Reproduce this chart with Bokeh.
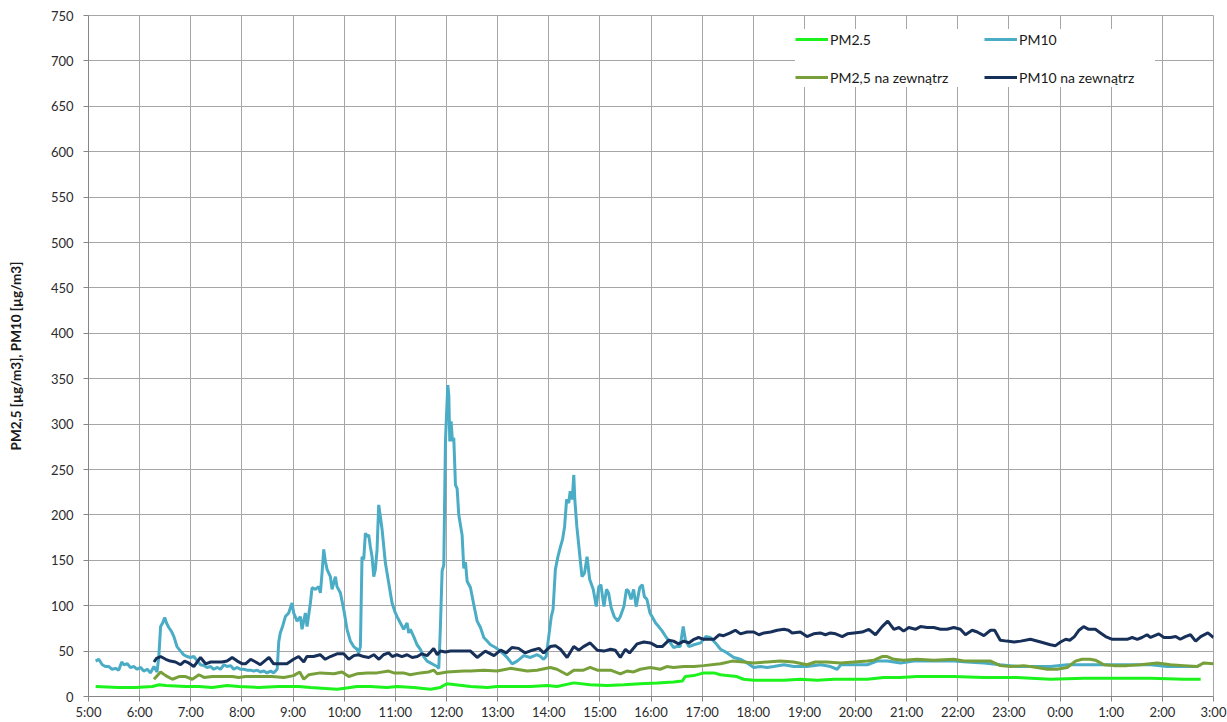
from bokeh.plotting import figure
from bokeh.models import Range1d, FixedTicker
from bokeh.embed import file_html
from bokeh.resources import INLINE

# ---- data (time in decimal hours since midnight of day 1; 24+ = next day) ----
tick_hours = list(range(5, 28))
tick_labels = ["5:00", "6:00", "7:00", "8:00", "9:00", "10:00", "11:00", "12:00",
               "13:00", "14:00", "15:00", "16:00", "17:00", "18:00", "19:00", "20:00",
               "21:00", "22:00", "23:00", "0:00", "1:00", "2:00", "3:00"]
y_ticks = list(range(0, 751, 50))

pm10_t = [5.14, 5.20, 5.27, 5.33, 5.40, 5.46, 5.53, 5.59, 5.65, 5.69, 5.76, 5.82, 5.89, 5.95,
          6.02, 6.08, 6.15, 6.21, 6.28, 6.34, 6.375, 6.41, 6.45, 6.49, 6.525, 6.57, 6.62, 6.67,
          6.73, 6.80, 6.86, 6.93, 6.99, 7.06, 7.13, 7.19, 7.26, 7.32, 7.39, 7.45, 7.52, 7.58,
          7.65, 7.71, 7.78, 7.84, 7.91, 7.97, 8.04, 8.10, 8.17, 8.23, 8.30, 8.36, 8.43, 8.49,
          8.56, 8.62, 8.69, 8.72, 8.75, 8.80, 8.85, 8.915, 8.98, 9.013, 9.078, 9.143, 9.176,
          9.241, 9.274, 9.339, 9.372, 9.437, 9.502, 9.535, 9.567, 9.60, 9.632, 9.665, 9.73,
          9.763, 9.828, 9.86, 9.926, 9.991, 10.056, 10.121, 10.186, 10.252, 10.284, 10.317,
          10.349, 10.382, 10.415, 10.447, 10.48, 10.512, 10.545, 10.578, 10.61, 10.643, 10.675,
          10.708, 10.741, 10.806, 10.871, 10.936, 11.001, 11.034, 11.099, 11.164, 11.23, 11.262,
          11.295, 11.36, 11.425, 11.49, 11.555, 11.621, 11.686, 11.751, 11.816, 11.85, 11.88,
          11.915, 11.948, 11.98, 12.026, 12.046, 12.065, 12.091, 12.117, 12.143, 12.176, 12.209,
          12.241, 12.306, 12.339, 12.372, 12.404, 12.469, 12.535, 12.60, 12.665, 12.73, 12.795,
          12.86, 12.958, 13.056, 13.186, 13.284, 13.382, 13.512, 13.643, 13.773, 13.84, 13.90,
          13.95, 14.0, 14.05, 14.085, 14.13, 14.18, 14.23, 14.27, 14.31, 14.35, 14.39, 14.42,
          14.46, 14.49, 14.51, 14.55, 14.61, 14.65, 14.70, 14.75, 14.80, 14.87, 14.93, 14.98,
          15.02, 15.08, 15.13, 15.17, 15.22, 15.28, 15.35, 15.40, 15.47, 15.52, 15.56, 15.61,
          15.66, 15.71, 15.78, 15.83, 15.87, 15.92, 15.98, 16.02, 16.09, 16.15, 16.22, 16.30,
          16.38, 16.44, 16.51, 16.57, 16.63, 16.67, 16.74, 16.84, 16.97, 17.07, 17.16, 17.26,
          17.36, 17.49, 17.62, 17.75, 17.88, 18.01, 18.14, 18.27, 18.40, 18.60, 18.79, 19.05,
          19.32, 19.51, 19.64, 19.71, 19.97, 20.23, 20.42, 20.62, 20.88, 21.14, 21.53, 21.92,
          22.18, 22.51, 22.83, 23.16, 23.49, 23.81, 24.14, 24.46, 24.79, 25.12, 25.44, 25.77,
          26.09, 26.42, 26.68, 26.75]
pm10_v = [39, 41, 35, 33, 33, 30, 31, 29, 38, 35, 36, 32, 33, 30,
          32, 28, 30, 26, 33, 27, 44, 77, 81, 87, 81, 76, 72, 66,
          55, 50, 46, 44, 43, 44, 39, 35, 34, 32, 33, 30, 32, 30,
          35, 33, 34, 30, 32, 30, 30, 29, 29, 28, 29, 27, 28, 26,
          28, 26, 30, 60, 70, 78, 88, 92, 103, 92, 83, 88, 74,
          92, 77, 103, 120, 118, 121, 114, 136, 162, 149, 140, 132,
          118, 132, 121, 114, 96, 74, 61, 55, 52, 48, 55,
          154, 151, 180, 176, 178, 165, 154, 132, 140, 162, 211,
          198, 184, 147, 125, 103, 92, 88, 81, 74, 81, 70,
          74, 66, 57, 52, 44, 39, 37, 35, 33, 31, 74,
          138, 145, 281, 343, 332, 281, 303, 281, 285, 233, 229,
          200, 178, 141, 148, 127, 120, 101, 83, 76, 65, 61,
          57, 54, 50, 43, 36, 39, 45, 43, 46, 44, 41,
          44, 66, 88, 96, 140, 154, 165, 173, 187, 217, 213, 226,
          217, 244, 217, 187, 154, 132, 136, 154, 129, 118, 99, 121,
          123, 99, 118, 114, 98, 88, 83, 88, 99, 118, 116, 107,
          118, 99, 120, 123, 110, 107, 92, 88, 81, 77, 72, 65,
          59, 54, 55, 55, 77, 63, 55, 57, 59, 66, 65, 59,
          52, 48, 43, 41, 37, 32, 33, 32, 33, 35, 33, 33,
          35, 33, 30, 35, 35, 35, 39, 39, 37, 39, 39, 39,
          38, 37, 35, 33, 33, 33, 35, 35, 35, 35, 35, 35,
          33, 33, 33, 35]

pm25_t = [5.14, 5.59, 5.92, 6.25, 6.38, 6.51, 6.90, 7.16, 7.42, 7.71, 7.94, 8.33, 8.72, 9.11,
          9.34, 9.86, 10.12, 10.25, 10.51, 10.84, 11.03, 11.36, 11.69, 11.88, 12.01, 12.18,
          12.47, 12.80, 12.99, 13.32, 13.64, 13.97, 14.16, 14.49, 14.81, 15.14, 15.47, 15.79,
          16.12, 16.44, 16.61, 16.67, 16.84, 17.03, 17.23, 17.36, 17.49, 17.68, 17.81, 18.01,
          18.27, 18.60, 18.92, 19.25, 19.58, 19.90, 20.23, 20.55, 20.88, 21.20, 21.53, 21.92,
          22.51, 23.16, 23.81, 24.46, 25.12, 25.77, 26.42, 26.75]
pm25_v = [11, 10, 10, 11, 13, 12, 11, 11, 10, 12, 11, 10, 11, 11,
          10, 8, 10, 11, 11, 10, 11, 10, 8, 10, 14, 13,
          11, 10, 11, 11, 11, 12, 11, 15, 13, 12, 13, 14,
          15, 16, 17, 22, 23, 26, 26, 24, 23, 22, 19, 18,
          18, 18, 19, 18, 19, 19, 19, 21, 21, 22, 22, 22,
          21, 21, 19, 20, 20, 20, 19, 19]

pm25_out_t = [6.28, 6.41, 6.51, 6.64, 6.77, 6.90, 7.03, 7.16, 7.26, 7.42, 7.68, 7.81, 7.94,
              8.07, 8.20, 8.40, 8.59, 8.82, 9.01, 9.13, 9.21, 9.31, 9.53, 9.80, 9.96, 10.09,
              10.25, 10.45, 10.64, 10.87, 10.97, 11.16, 11.29, 11.49, 11.65, 11.75, 11.82,
              12.01, 12.34, 12.47, 12.73, 12.99, 13.25, 13.58, 13.77, 14.03, 14.16, 14.36,
              14.49, 14.68, 14.81, 14.95, 15.21, 15.40, 15.53, 15.66, 15.79, 15.99, 16.18,
              16.31, 16.44, 16.64, 16.84, 17.03, 17.36, 17.59, 17.81, 18.01, 18.27, 18.53,
              18.79, 19.05, 19.21, 19.44, 19.71, 19.97, 20.23, 20.36, 20.52, 20.62, 20.75,
              20.94, 21.20, 21.53, 21.92, 22.12, 22.38, 22.64, 22.83, 23.03, 23.29, 23.55,
              23.75, 23.94, 24.14, 24.30, 24.43, 24.59, 24.69, 24.86, 25.05, 25.31, 25.57,
              25.90, 26.16, 26.42, 26.68, 26.81, 27.0]
pm25_out_v = [19, 27, 23, 19, 22, 22, 19, 24, 21, 22, 22, 22, 21,
              22, 22, 22, 22, 21, 23, 27, 19, 24, 26, 25, 27, 22,
              25, 26, 26, 28, 26, 26, 24, 26, 27, 29, 25,
              27, 28, 28, 29, 28, 31, 28, 29, 32, 30, 24,
              29, 29, 32, 29, 29, 25, 28, 27, 30, 32, 30,
              33, 32, 33, 33, 34, 36, 39, 38, 37, 38, 39,
              38, 35, 38, 38, 37, 38, 39, 40, 44, 44, 41,
              40, 41, 40, 41, 39, 39, 39, 34, 33, 34, 32,
              30, 30, 32, 39, 41, 41, 40, 35, 34, 34, 35,
              37, 35, 34, 33, 37, 36]

pm10_out_t = [6.28, 6.33, 6.41, 6.51, 6.60, 6.70, 6.80, 6.88, 6.96, 7.06, 7.19, 7.29, 7.39,
              7.48, 7.61, 7.71, 7.81, 7.91, 8.01, 8.07, 8.17, 8.27, 8.36, 8.53, 8.62, 8.72,
              8.88, 9.01, 9.11, 9.21, 9.27, 9.40, 9.53, 9.63, 9.73, 9.86, 9.99, 10.09, 10.19,
              10.28, 10.38, 10.48, 10.58, 10.68, 10.77, 10.87, 10.94, 11.03, 11.13, 11.23,
              11.33, 11.43, 11.52, 11.62, 11.69, 11.75, 11.82, 11.88, 11.98, 12.08, 12.27,
              12.47, 12.60, 12.76, 12.93, 13.06, 13.17, 13.28, 13.41, 13.54, 13.68, 13.81,
              13.90, 14.03, 14.13, 14.23, 14.36, 14.49, 14.59, 14.68, 14.81, 14.95, 15.08,
              15.21, 15.30, 15.40, 15.50, 15.58, 15.73, 15.86, 15.99, 16.12, 16.22, 16.35,
              16.44, 16.54, 16.64, 16.74, 16.84, 16.93, 17.03, 17.13, 17.23, 17.33, 17.42,
              17.55, 17.65, 17.75, 17.88, 18.01, 18.11, 18.21, 18.34, 18.47, 18.60, 18.69,
              18.76, 18.92, 19.05, 19.18, 19.31, 19.41, 19.51, 19.61, 19.74, 19.84, 19.97,
              20.13, 20.26, 20.39, 20.52, 20.63, 20.75, 20.85, 20.94, 21.04, 21.17, 21.27,
              21.40, 21.53, 21.66, 21.79, 21.92, 22.05, 22.15, 22.28, 22.38, 22.51, 22.64,
              22.72, 22.83, 22.96, 23.10, 23.23, 23.42, 23.62, 23.81, 23.91, 24.01, 24.11,
              24.19, 24.28, 24.37, 24.46, 24.56, 24.69, 24.79, 24.89, 25.02, 25.18, 25.31,
              25.41, 25.51, 25.60, 25.70, 25.77, 25.85, 25.93, 26.03, 26.16, 26.26, 26.35,
              26.45, 26.55, 26.65, 26.75, 26.89, 27.0]
pm10_out_v = [38, 42, 44, 41, 39, 38, 35, 39, 37, 33, 43, 36, 38,
              38, 38, 39, 43, 39, 36, 36, 41, 38, 35, 43, 36, 36,
              36, 41, 44, 38, 44, 44, 46, 41, 44, 47, 47, 41, 45,
              46, 44, 43, 46, 41, 46, 48, 44, 46, 44, 46,
              43, 44, 47, 45, 49, 53, 46, 50, 49, 50, 50,
              50, 43, 50, 45, 51, 48, 54, 53, 48, 51, 53,
              48, 55, 56, 52, 43, 55, 51, 55, 59, 51, 50,
              52, 51, 43, 52, 48, 58, 60, 59, 55, 55, 62,
              61, 58, 61, 59, 63, 65, 63, 63, 63, 68, 67,
              70, 73, 69, 71, 71, 68, 70, 71, 73, 74, 73,
              70, 71, 66, 69, 70, 68, 70, 69, 66, 69, 70,
              71, 74, 68, 77, 83, 74, 76, 72, 76, 74, 77,
              76, 76, 74, 74, 76, 74, 68, 73, 71, 67, 73,
              73, 62, 61, 60, 61, 63, 60, 57, 56, 60, 63,
              62, 66, 73, 77, 74, 74, 70, 66, 63, 63, 63,
              65, 63, 65, 68, 65, 67, 69, 65, 65, 66, 63,
              66, 68, 61, 66, 70, 65]

series_names = ["PM2.5", "PM10", "PM2,5 na zewnątrz", "PM10 na zewnątrz"]
series_colors = ["#1cf21c", "#4bacc6", "#77a03a", "#17305a"]

FONT = "Lato"

p = figure(width=1227, height=722, x_range=Range1d(5, 27), y_range=Range1d(0, 750),
           output_backend="svg", toolbar_location=None,
           min_border_left=88, min_border_right=14, min_border_top=15, min_border_bottom=25)
p.background_fill_color = "white"
p.border_fill_color = "white"
p.outline_line_color = "#a6a6a6"

for axis in (p.xaxis[0], p.yaxis[0]):
    axis.axis_line_color = "#868686"
    axis.major_tick_line_color = "#868686"
    axis.major_tick_out = 5
    axis.major_tick_in = 0
    axis.minor_tick_out = 0
    axis.minor_tick_in = 0
    axis.major_label_text_font = FONT
    axis.major_label_text_font_size = "13px"
    axis.major_label_text_color = "#2b2b2b"

p.xaxis.ticker = FixedTicker(ticks=tick_hours)
p.xaxis.major_label_overrides = {h: lab for h, lab in zip(tick_hours, tick_labels)}
p.xaxis.major_label_standoff = 2
p.yaxis.ticker = FixedTicker(ticks=y_ticks)
p.yaxis.major_label_standoff = 10
p.yaxis.axis_label = "PM2,5 [µg/m3], PM10 [µg/m3]"
p.yaxis.axis_label_text_font = FONT
p.yaxis.axis_label_text_font_style = "bold"
p.yaxis.axis_label_text_font_size = "13.5px"
p.yaxis.axis_label_text_color = "#1a1a1a"
p.yaxis.axis_label_standoff = 24

p.grid.grid_line_color = "#a6a6a6"
p.grid.grid_line_width = 1

data = [(pm25_t, pm25_v), (pm10_t, pm10_v), (pm25_out_t, pm25_out_v), (pm10_out_t, pm10_out_v)]
for (xs, ys), name, col in zip(data, series_names, series_colors):
    p.line(xs, ys, line_color=col, line_width=3, legend_label=name)

lg = p.legend[0]
lg.orientation = "horizontal"
lg.ncols = 2
lg.location = (707, 609)
lg.border_line_color = None
lg.background_fill_color = "white"
lg.background_fill_alpha = 1.0
lg.padding = 10
lg.spacing = 18
lg.margin = 0
lg.glyph_width = 33
lg.glyph_height = 20
lg.label_height = 20
lg.label_width = 136
lg.label_standoff = 2
lg.label_text_font = FONT
lg.label_text_font_size = "14px"
lg.label_text_color = "#1a1a1a"

open("out.html", "w").write(file_html(p, INLINE))
